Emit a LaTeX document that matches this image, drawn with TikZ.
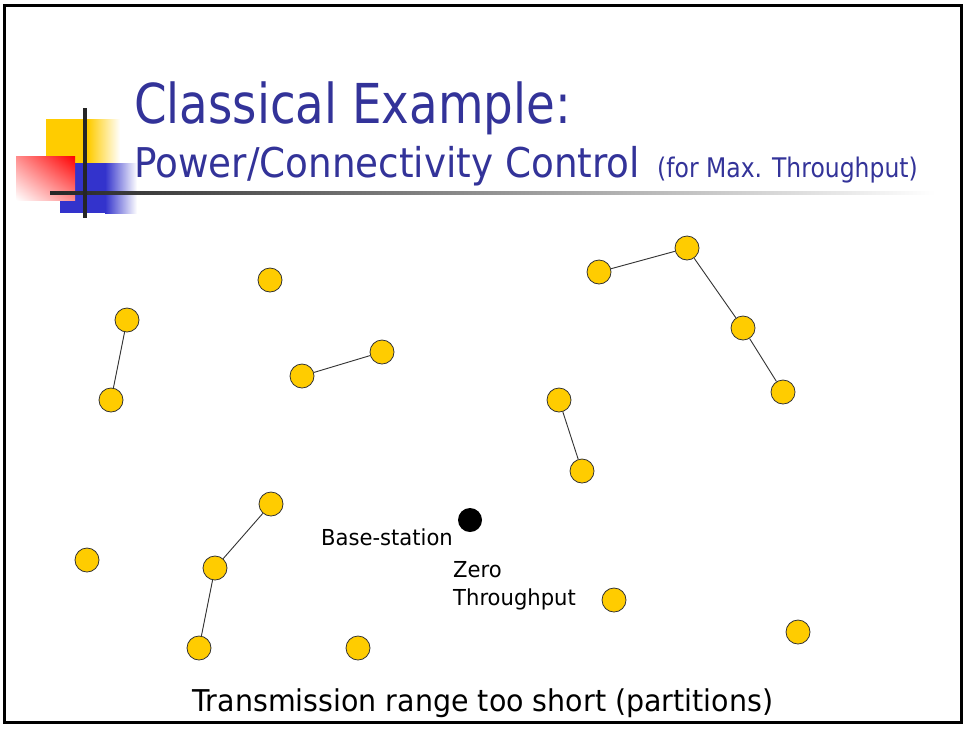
\documentclass[tikz,border=0pt]{standalone}
\usepackage{fontspec}
\usetikzlibrary{shadings}
\setmainfont{DejaVu Sans}[FakeStretch=0.83]
\newfontfamily\fontTa{DejaVu Sans}[FakeStretch=0.85]
\newfontfamily\fontTb{DejaVu Sans}[FakeStretch=0.91]
\newfontfamily\fontTc{DejaVu Sans}[FakeStretch=0.87]
\newfontfamily\fontLb{DejaVu Sans}[FakeStretch=0.96]
\newfontfamily\fontCp{DejaVu Sans}[FakeStretch=0.95]
\definecolor{titleblue}{HTML}{333399}
\definecolor{nodeyellow}{HTML}{FFCC00}
\definecolor{decoyellow}{HTML}{FFCC00}
\definecolor{decoblue}{HTML}{3333CC}
\begin{document}
\begin{tikzpicture}[x=1pt,y=-1pt,
  sensor/.style={circle,draw=black!80,fill=nodeyellow,minimum size=24pt,inner sep=0pt,line width=0.8pt},
  basest/.style={circle,fill=black,minimum size=24pt,inner sep=0pt},
  link/.style={draw=black!80,line width=0.9pt},
  label/.style={inner sep=0pt,anchor=base west,font=\fontLb\fontsize{22}{26}\selectfont}]
\useasboundingbox (0,0) rectangle (965,729);
\fill[white] (0,0) rectangle (965,729);
\draw[line width=3pt] (4.5,5) rectangle (961.5,722);
% decoration
\fill[decoyellow] (46,119) rectangle (88,163);
\shade[left color=decoyellow,right color=white] (88,119) rectangle (120,163);
\fill[decoblue] (60,163) rectangle (105,213);
\shade[left color=decoblue,right color=white] (105,163) rectangle (137,213);
\shade[upper right=red,lower left=white,upper left=red!45!white,lower right=red!45!white] (16,156) rectangle (75,200);
\shade[left color=black!85,right color=white] (50,191.5) rectangle (935,194.5);
\fill[black!85] (83,108) rectangle (87,218);
% title
\node[inner sep=0pt,anchor=base west,text=titleblue,font=\fontTa\fontsize{55}{60}\selectfont] (t1) at (134,123) {Classical Example:};
\node[inner sep=0pt,anchor=base west,text=titleblue,font=\fontTb\fontsize{41}{46}\selectfont] (t2) at (134,177) {Power/Connectivity Control};
\node[inner sep=0pt,anchor=base west,text=titleblue,font=\fontTc\fontsize{27}{30}\selectfont] (t3) at (657,177) {(for Max. Throughput)};
% sensors
\node[sensor] (a) at (127,320) {};
\node[sensor] (b) at (111,400) {};
\node[sensor] (c) at (270,280) {};
\node[sensor] (d) at (302,376) {};
\node[sensor] (e) at (382,352) {};
\node[sensor] (f) at (599,272) {};
\node[sensor] (g) at (687,248) {};
\node[sensor] (h) at (743,328) {};
\node[sensor] (i) at (783,392) {};
\node[sensor] (j) at (559,400) {};
\node[sensor] (k) at (582,471) {};
\node[sensor] (l) at (271,504) {};
\node[sensor] (m) at (215,568) {};
\node[sensor] (n) at (199,648) {};
\node[sensor] (o) at (87,560) {};
\node[sensor] (p) at (358,648) {};
\node[sensor] (q) at (614,600) {};
\node[sensor] (r) at (798,632) {};
\node[basest] (bs) at (470,520) {};
% links
\draw[link] (a) -- (b);
\draw[link] (d) -- (e);
\draw[link] (f) -- (g);
\draw[link] (g) -- (h);
\draw[link] (h) -- (i);
\draw[link] (j) -- (k);
\draw[link] (l) -- (m);
\draw[link] (m) -- (n);
% labels
\node[label,anchor=base east] (bsl) at (453,545) {Base-station};
\node[label] (z1) at (453,577) {Zero};
\node[label] (z2) at (453,605) {Throughput};
\node[inner sep=0pt,anchor=base,font=\fontCp\fontsize{30}{34}\selectfont] (cap) at (483,711) {Transmission range too short (partitions)};
\end{tikzpicture}
\end{document}
